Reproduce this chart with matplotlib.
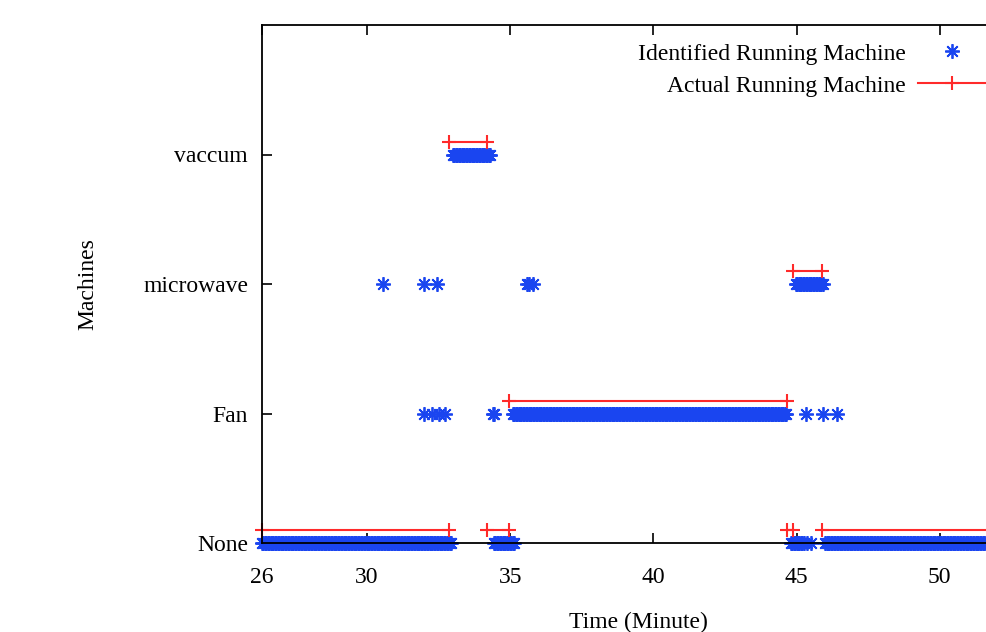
import numpy as np
import matplotlib
matplotlib.use("Agg")
import matplotlib.pyplot as plt
from matplotlib.lines import Line2D

plt.rcParams['font.family'] = ['Liberation Serif', 'DejaVu Serif']

# machine levels
machines = ['None', 'Fan', 'microwave', 'vaccum']
levels = [0, 1, 2, 3]

# time axis (minutes)
x_min, x_max = 26.33, 52.0
xtick_pos = [26.33, 30, 35, 40, 45, 50]
xtick_lab = ['26', '30', '35', '40', '45', '50']

# sampling period of the identifier (minutes)
step = 0.05

# identified: dense runs (start, end, level)
ident_runs = [
    (26.33, 32.93, 0),
    (34.43, 35.13, 0),
    (44.80, 45.25, 0),
    (46.00, 52.00, 0),
    (35.09, 44.65, 1),
    (44.97, 45.95, 2),
    (33.00, 34.33, 3),
]
# identified: isolated points (time, level)
ident_t = [45.38, 45.50, 31.98, 32.26, 32.51, 32.72, 34.39, 34.45,
           45.32, 45.91, 46.40, 30.55, 31.98, 32.44, 35.58, 35.66, 35.79]
ident_l = [0, 0, 1, 1, 1, 1, 1, 1,
           1, 1, 1, 2, 2, 2, 2, 2, 2]

# actual running machine segments (start, end, level)
actual_runs = [
    (26.33, 32.86, 0),
    (32.86, 34.18, 3),
    (34.18, 34.95, 0),
    (34.95, 44.65, 1),
    (44.65, 44.86, 0),
    (44.86, 45.88, 2),
    (45.88, 52.00, 0),
]
actual_offset = 0.1

blue = '#1a45f0'
red = '#ff2a2a'
fs = 17

fig = plt.figure(figsize=(9.86, 6.32), dpi=100)
ax = fig.add_axes([262/986, 1-543/632, (997-262)/986, (543-25)/632])

star = (8, 2, 0)
for s, e, lv in ident_runs:
    t = np.arange(s, e + 1e-9, step)
    ax.plot(t, np.full_like(t, lv), ls='none', marker=star, ms=10.5,
            mew=1.3, color=blue, clip_on=False)
ax.plot(ident_t, ident_l, ls='none', marker=star, ms=10.5, mew=1.3,
        color=blue, clip_on=False)

for s, e, lv in actual_runs:
    y = lv + actual_offset
    ax.plot([s, e], [y, y], color=red, lw=1.5, marker='+', ms=10,
            mew=1.5, clip_on=False)

ax.set_xlim(x_min, x_max)
ax.set_ylim(0, 4)
ax.set_xticks(xtick_pos)
ax.set_xticklabels(xtick_lab)
ax.set_yticks(levels)
ax.set_yticklabels(machines)
ax.tick_params(direction='in', length=7, width=1.2, top=True, right=True,
               labelsize=fs)
ax.tick_params(axis='y', pad=10)
ax.tick_params(axis='x', pad=17)
for sp in ax.spines.values():
    sp.set_linewidth(1.3)

ax.set_xlabel('Time (Minute)', fontsize=fs)
ax.xaxis.set_label_coords((638-262)/(997-262), -(612-543)/518)
ax.set_ylabel('Machines', fontsize=fs)
ax.yaxis.set_label_coords(-(262-98)/(997-262), 0.5)

h1 = Line2D([], [], ls='none', marker=star, ms=10.5, mew=1.3, color=blue)
h2 = Line2D([], [], color=red, lw=1.5, marker='+', ms=10, mew=1.5)
fig.legend([h1, h2], ['Identified Running Machine', 'Actual Running Machine'],
           loc='upper right', bbox_to_anchor=(986/986, 1-43/632),
           markerfirst=False, frameon=False, fontsize=fs, handlelength=2.9,
           handletextpad=0.5, labelspacing=0.45, borderpad=0,
           borderaxespad=0)

fig.savefig('out.png', dpi=100)
